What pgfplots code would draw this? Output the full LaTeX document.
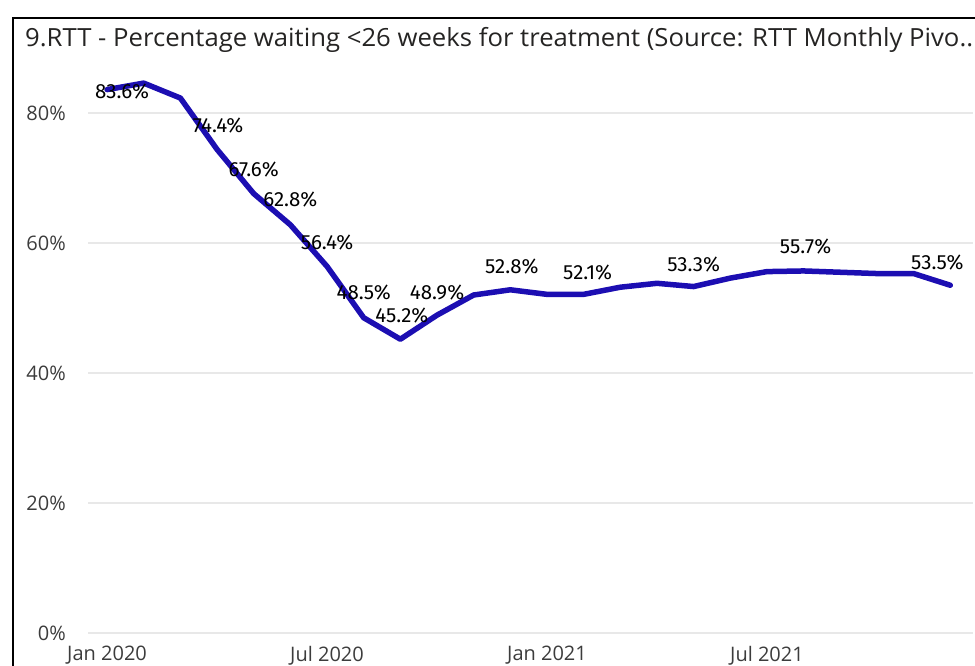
\documentclass[border=0pt]{standalone}
\usepackage{pgfplots}
\pgfplotsset{compat=1.18}
\usepackage{pgfplotstable}
\usepackage{graphicx}
\usepackage{fontspec}
\setmainfont{Open Sans}
\newfontfamily\labfont{Fira Sans}
\definecolor{linecol}{RGB}{28,14,178}
\definecolor{gridcol}{RGB}{232,232,232}
\definecolor{tickcol}{RGB}{60,60,60}
\definecolor{titlecol}{RGB}{37,36,35}
\pgfplotstableread{
x y
0 83.6
1 84.6
2 82.3
3 74.4
4 67.6
5 62.8
6 56.4
7 48.5
8 45.2
9 48.9
10 52.0
11 52.8
12 52.1
13 52.1
14 53.2
15 53.8
16 53.3
17 54.6
18 55.6
19 55.7
20 55.5
21 55.3
22 55.3
23 53.5
}\rttdata
\pgfplotstableread{
x y dx dy
0 83.6 15 -1.5
3 74.4 1 24
4 67.6 0 24
5 62.8 0 25
6 56.4 0 24
7 48.5 0 25
8 45.2 1.5 24
9 48.9 0 23
11 52.8 1.5 23
13 52.1 4 22
16 53.3 0 22
19 55.7 2 24
23 53.5 -13 23
}\rttlabels
\begin{document}
\begin{tikzpicture}[x=1pt,y=1pt]
\path[use as bounding box] (0,0) rectangle (975,665);
\begin{scope}
\clip (0,0) rectangle (975,665);
\draw[line width=1.5pt, black] (13,-20) -- (13,647) -- (1000,647);
\node[anchor=base west, inner sep=0pt, text=titlecol] at (25,618) {\resizebox{948pt}{\height}{\fontsize{25}{29}\selectfont 9.RTT - Percentage waiting <26 weeks for treatment (Source: RTT Monthly Pivo..}};
\begin{axis}[at={(88pt,32pt)}, anchor=south west, scale only axis,
  width=885pt, height=565.5pt,
  xmin=-0.52, xmax=23.62, ymin=0, ymax=87,
  axis line style={draw=none}, tick style={draw=none},
  /pgf/number format/assume math mode=true,
  ytick={0,20,40,60,80}, yticklabels={0\%,20\%,40\%,60\%,80\%},
  ymajorgrids, grid style={gridcol, line width=1.5pt},
  xtick={0,6,12,18}, xticklabels={Jan 2020,Jul 2020,Jan 2021,Jul 2021},
  tick label style={font=\fontsize{20}{24}\selectfont, text=tickcol, inner sep=0pt},
  yticklabel style={anchor=east, xshift=-22pt},
  xticklabel style={anchor=north, yshift=-13pt},
  clip=false]
\addplot[linecol, line width=5.5pt, line join=round, line cap=round] table[x=x,y=y]{\rttdata};
\addplot[draw=none, mark=none, point meta=y,
  nodes near coords={\pgfmathprintnumber[fixed,fixed zerofill,precision=1]{\pgfplotspointmeta}\%},
  visualization depends on={\thisrow{dx} \as \ldx},
  visualization depends on={\thisrow{dy} \as \ldy},
  every node near coord/.append style={anchor=center, xshift=\ldx pt, yshift=\ldy pt, font=\labfont\fontsize{20.5}{22}\selectfont, inner sep=0pt, text=black}]
  table[x=x,y=y]{\rttlabels};
\end{axis}
\end{scope}
\end{tikzpicture}
\end{document}
